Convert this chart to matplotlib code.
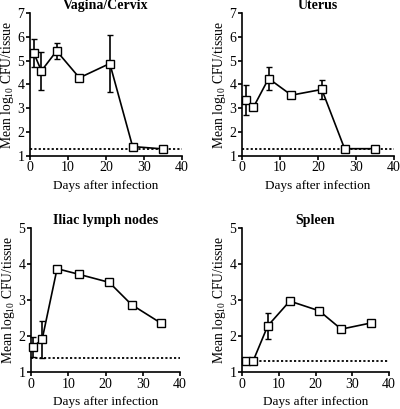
import numpy as np
import matplotlib.pyplot as plt

plt.rcParams['font.family'] = ['Liberation Serif', 'DejaVu Serif']
plt.rcParams['mathtext.fontset'] = 'custom'
plt.rcParams['mathtext.rm'] = 'Liberation Serif'
plt.rcParams['mathtext.it'] = 'Liberation Serif'

days = [1, 3, 7, 13, 21, 27, 35]

# Vagina/Cervix
vc_mean = [5.32, 4.57, 5.41, 4.28, 4.88, 1.39, 1.29]
vc_err = [0.58, 0.79, 0.33, 0, 1.2, 0, 0]
vc_limit = 1.29

# Uterus
ut_mean = [3.34, 3.04, 4.25, 3.55, 3.79, 1.30, 1.30]
ut_err = [0.63, 0, 0.48, 0, 0.4, 0, 0]
ut_limit = 1.28

# Iliac lymph nodes
il_days = [0.5, 3, 7, 13, 21, 27, 35]
il_mean = [1.69, 1.91, 3.87, 3.71, 3.49, 2.87, 2.35]
il_err = [0.28, 0.52, 0, 0, 0, 0, 0]
il_limit = 1.39

# Spleen
sp_mean = [1.30, 1.30, 2.28, 2.97, 2.70, 2.19, 2.36]
sp_err = [0, 0, 0.37, 0, 0, 0, 0]
sp_limit = 1.30

panels = [
    ('Vagina/Cervix', days, vc_mean, vc_err, vc_limit, (1, 7), [0.075, 0.619, 0.38, 0.349]),
    ('Uterus', days, ut_mean, ut_err, ut_limit, (1, 7), [0.605, 0.619, 0.38, 0.349]),
    ('Iliac lymph nodes', il_days, il_mean, il_err, il_limit, (1, 5), [0.0775, 0.0905, 0.3725, 0.352]),
    ('Spleen', days, sp_mean, sp_err, sp_limit, (1, 5), [0.605, 0.0905, 0.3675, 0.352]),
]

fig = plt.figure(figsize=(4.0, 4.09), dpi=100)

for title, x, mean, err, limit, ylim, pos in panels:
    ax = fig.add_axes(pos)
    ax.errorbar(x, mean, yerr=err, color='black', lw=1.2, capsize=2.5,
                capthick=1.2, marker='s', markersize=6, mfc='white',
                mec='black', mew=1.0, clip_on=False, zorder=3)
    ax.axhline(limit, color='black', lw=1.3, ls=(0, (1.2, 1.2)), zorder=2)
    ax.set_xlim(0, 40)
    ax.set_ylim(*ylim)
    ax.set_xticks([0, 10, 20, 30, 40])
    ax.set_yticks(np.arange(ylim[0], ylim[1] + 1, 1))
    ax.spines['top'].set_visible(False)
    ax.spines['right'].set_visible(False)
    ax.spines['left'].set_linewidth(1.2)
    ax.spines['bottom'].set_linewidth(1.2)
    ax.tick_params(direction='out', length=3, width=1.2, labelsize=10, pad=1)
    ax.set_title(title, fontsize=10, fontweight='bold', pad=3)
    ax.set_xlabel('Days after infection', fontsize=9.5, labelpad=4)
    ax.set_ylabel('Mean log$_{10}$ CFU/tissue', fontsize=9.8, labelpad=1)

fig.savefig('out.png', dpi=100)
